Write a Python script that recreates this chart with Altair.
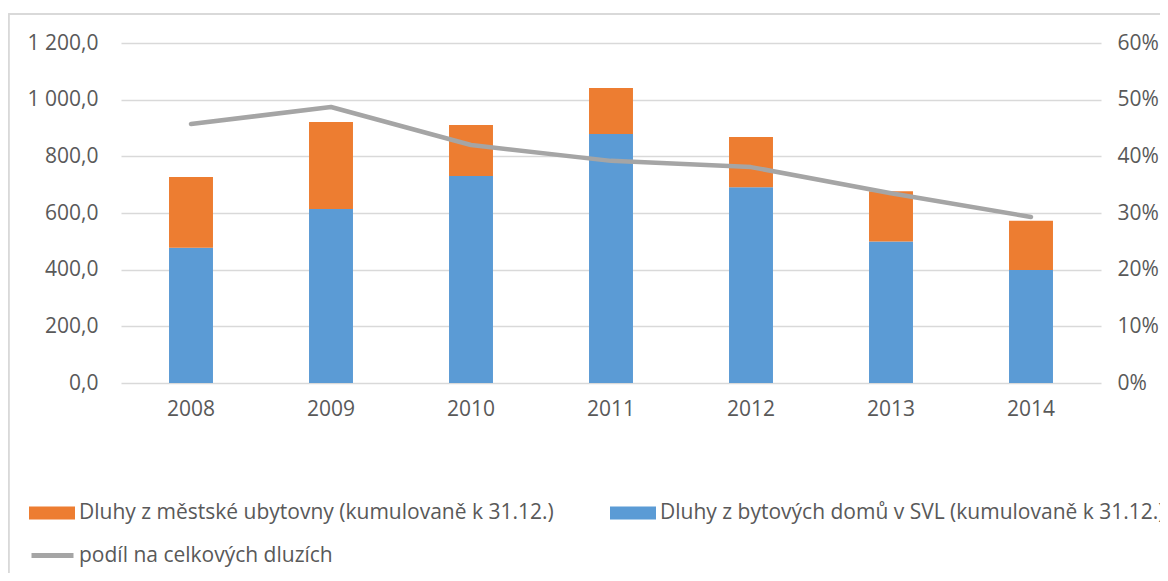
import altair as alt
import pandas as pd

years = ["2008", "2009", "2010", "2011", "2012", "2013", "2014"]
svl_debts = [477, 614, 731, 879, 691, 499, 399]
hostel_debts = [250, 307, 180, 162, 177, 178, 174]
share = [0.457, 0.487, 0.420, 0.392, 0.381, 0.335, 0.293]

name_hostel = "Dluhy z městské ubytovny (kumulovaně k 31.12.)"
name_svl = "Dluhy z bytových domů v SVL (kumulovaně k 31.12.)"
name_share = "podíl na celkových dluzích"

bars_df = pd.DataFrame({
    "year": years * 2,
    "series": [name_svl] * len(years) + [name_hostel] * len(years),
    "value": svl_debts + hostel_debts,
    "rank": [0] * len(years) + [1] * len(years),
})
line_df = pd.DataFrame({"year": years, "share": share, "series": [name_share] * len(years)})

FONT = "Open Sans"
TXT = "#595959"
FS = 21
W, H = 980, 340

x_enc = alt.X(
    "year:N",
    scale=alt.Scale(paddingInner=0.686, paddingOuter=0.343),
    axis=alt.Axis(title=None, labelAngle=0, domain=False, ticks=False,
                  labelPadding=15, grid=False, labelFontSize=FS),
)

bars = alt.Chart(bars_df).mark_bar().encode(
    x=x_enc,
    y=alt.Y(
        "value:Q", stack="zero",
        scale=alt.Scale(domain=[0, 1200]),
        axis=alt.Axis(
            title=None, values=[0, 200, 400, 600, 800, 1000, 1200],
            labelExpr="replace(replace(format(datum.value, ',.1f'), ',', ' '), '.', ',')",
            domain=False, ticks=False, labelPadding=23, grid=True,
            gridColor="#d9d9d9", gridWidth=1.5, labelFontSize=FS,
        ),
    ),
    color=alt.Color(
        "series:N",
        scale=alt.Scale(domain=[name_hostel, name_svl], range=["#ed7d31", "#5b9bd5"]),
        legend=alt.Legend(
            title=None, orient="none", legendX=-92, legendY=447,
            direction="horizontal", columns=2, columnPadding=56, padding=0,
            symbolType="M-1,-0.283L1,-0.283L1,0.283L-1,0.283Z",
            symbolSize=2116, symbolStrokeWidth=0, labelOffset=4,
            labelFont=FONT, labelFontSize=FS, labelColor=TXT, labelLimit=2000,
        ),
    ),
    order=alt.Order("rank:Q"),
)

line = alt.Chart(line_df).mark_line(
    strokeWidth=4.5, strokeCap="round", strokeJoin="round"
).encode(
    x=x_enc,
    y=alt.Y(
        "share:Q",
        scale=alt.Scale(domain=[0, 0.6]),
        axis=alt.Axis(
            orient="right", title=None, format=".0%",
            values=[0, 0.1, 0.2, 0.3, 0.4, 0.5, 0.6],
            domain=False, ticks=False, labelPadding=16, grid=False, labelFontSize=FS,
        ),
    ),
    stroke=alt.Stroke(
        "series:N",
        scale=alt.Scale(domain=[name_share], range=["#a5a5a5"]),
        legend=alt.Legend(
            title=None, orient="none", legendX=-92, legendY=489, padding=0,
            symbolType="stroke", symbolSize=1764, symbolStrokeWidth=5,
            labelOffset=3, labelFont=FONT, labelFontSize=FS, labelColor=TXT,
            labelLimit=2000,
        ),
    ),
)

frame_left = alt.Chart(line_df).mark_rule(color="#d9d9d9", strokeWidth=1.5).encode(
    x=alt.value(-112.5), y=alt.value(-29), y2=alt.value(H + 200)
)
frame_top = alt.Chart(line_df).mark_rule(color="#d9d9d9", strokeWidth=1.5).encode(
    x=alt.value(-112.5), x2=alt.value(W + 200), y=alt.value(-29)
)

chart = alt.layer(bars, line, frame_left, frame_top).resolve_scale(
    y="independent"
).properties(
    width=W, height=H,
    autosize=alt.AutoSizeParams(type="none"),
    padding={"left": 113, "top": 35, "right": 59, "bottom": 190},
).configure_view(stroke=None).configure_axis(
    labelFont=FONT, labelColor=TXT
)

chart.save("out.html", embed_options={"renderer": "svg", "actions": False})
